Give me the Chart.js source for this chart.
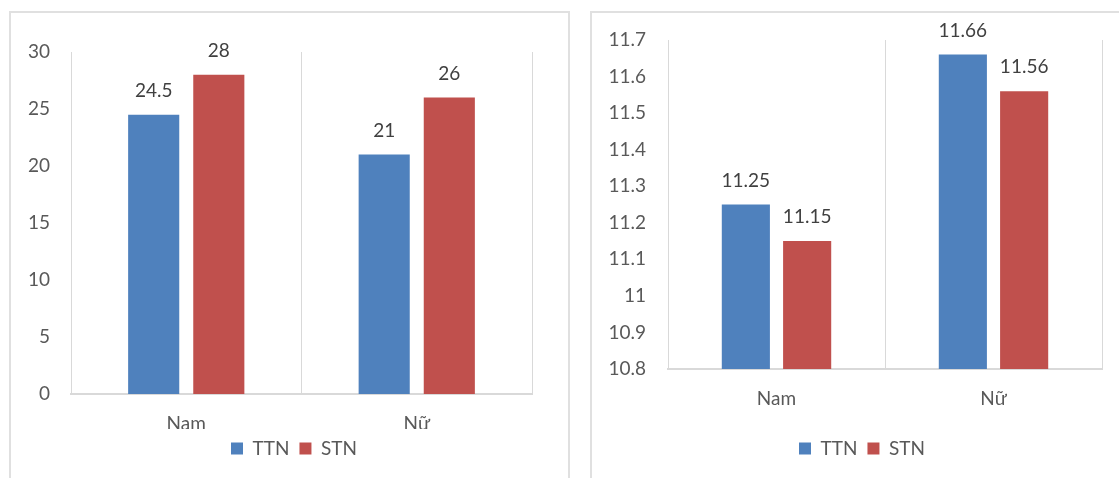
<!DOCTYPE html>
<html>
<head>
<meta charset="utf-8">
<script src="https://cdn.jsdelivr.net/npm/chart.js@4.4.1/dist/chart.umd.min.js"></script>
<style>
    html, body {
        margin: 0;
        padding: 0;
        background: #ffffff;
        overflow: hidden;
    }
    .page {
        position: relative;
        width: 1119px;
        height: 478px;
    }
    .frame {
        position: absolute;
        border: 2px solid #e0e0e0;
        box-sizing: border-box;
    }
    canvas {
        position: absolute;
        top: 0;
    }
</style>
</head>
<body>
<div class="page">
    <div class="frame" style="left: 9px; top: 11px; width: 561px; height: 500px;"></div>
    <div class="frame" style="left: 590px; top: 11px; width: 560px; height: 500px;"></div>
    <canvas id="chartLeft" width="575" height="478" style="left: 0;"></canvas>
    <canvas id="chartRight" width="539" height="478" style="left: 580px;"></canvas>
</div>

<script>
// Categories and series
const categories = ['Nam', 'Nữ'];
const seriesNames = ['TTN', 'STN'];
const seriesColors = ['#4f81bd', '#c0504d'];

// Left chart values
const leftTTN = [24.5, 21];
const leftSTN = [28, 26];
const leftTicks = [0, 5, 10, 15, 20, 25, 30];

// Right chart values
const rightTTN = [11.25, 11.66];
const rightSTN = [11.15, 11.56];
const rightTicks = [10.8, 10.9, 11, 11.1, 11.2, 11.3, 11.4, 11.5, 11.6, 11.7];

const FONT = { family: 'Lato, "Open Sans", sans-serif', size: 19 };
const TEXT_COLOR = '#595959';
const LINE_COLOR = '#d9d9d9';

// Value written above each bar
const valueLabels = {
    id: 'valueLabels',
    afterDatasetsDraw(chart) {
        const ctx = chart.ctx;
        ctx.save();
        ctx.font = FONT.size + 'px ' + FONT.family;
        ctx.fillStyle = '#404040';
        ctx.textAlign = 'center';
        ctx.textBaseline = 'middle';
        chart.data.datasets.forEach((ds, i) => {
            chart.getDatasetMeta(i).data.forEach((bar, j) => {
                ctx.fillText(String(ds.data[j]), bar.x, bar.y - 24);
            });
        });
        ctx.restore();
    }
};

// Legend sits centred under the frame rather than under the whole canvas
const legendOffset = {
    id: 'legendOffset',
    afterLayout(chart, args, opts) {
        if (chart.legend) {
            chart.legend.left = opts.left;
        }
    }
};

function makeChart(canvasId, ttn, stn, ticks, box) {
    return new Chart(document.getElementById(canvasId), {
        type: 'bar',
        data: {
            labels: categories,
            datasets: [ttn, stn].map((values, i) => ({
                label: seriesNames[i],
                data: values,
                backgroundColor: seriesColors[i],
                borderWidth: 0,
                categoryPercentage: 0.565,
                barPercentage: 0.785
            }))
        },
        options: {
            responsive: false,
            animation: false,
            layout: {
                padding: { left: 0, right: box.padRight, top: box.padTop, bottom: 10 }
            },
            plugins: {
                legend: {
                    position: 'bottom',
                    labels: {
                        boxWidth: 12,
                        boxHeight: 12,
                        padding: 10,
                        color: TEXT_COLOR,
                        font: FONT
                    }
                },
                legendOffset: { left: box.legendLeft },
                tooltip: { enabled: false }
            },
            scales: {
                x: {
                    grid: {
                        color: LINE_COLOR,
                        offset: true,
                        drawTicks: false
                    },
                    border: { color: LINE_COLOR, width: 2 },
                    ticks: { color: TEXT_COLOR, font: FONT, padding: 18 },
                    afterFit: (scale) => { scale.height = box.xHeight; }
                },
                y: {
                    min: ticks[0],
                    max: ticks[ticks.length - 1],
                    grid: { display: false, drawTicks: false },
                    border: { display: true, color: LINE_COLOR, width: 1 },
                    ticks: {
                        color: TEXT_COLOR,
                        font: FONT,
                        padding: box.tickPad,
                        callback: (value) => String(value)
                    },
                    afterBuildTicks: (scale) => {
                        scale.ticks = ticks.map(v => ({ value: v }));
                    },
                    afterFit: (scale) => { scale.width = box.yWidth; }
                }
            }
        },
        plugins: [valueLabels, legendOffset]
    });
}

document.addEventListener('DOMContentLoaded', () => {
    makeChart('chartLeft', leftTTN, leftSTN, leftTicks, {
        padRight: 43, padTop: 52, yWidth: 71, xHeight: 35, tickPad: 21, legendLeft: 56
    });
    makeChart('chartRight', rightTTN, rightSTN, rightTicks, {
        padRight: 17, padTop: 40, yWidth: 88, xHeight: 60, tickPad: 22, legendLeft: 42
    });
});
</script>
</body>
</html>
